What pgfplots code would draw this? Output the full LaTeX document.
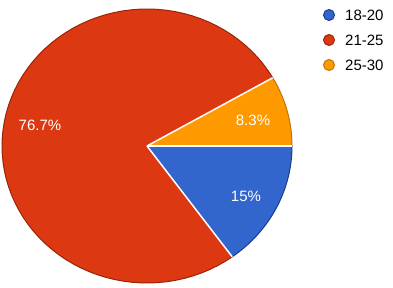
\documentclass[border=0pt]{standalone}
\usepackage{fontspec}
\setmainfont{Liberation Sans}
\usepackage{pgfplots}
\pgfplotsset{compat=1.18}
\definecolor{cblue}{HTML}{3366CC}
\definecolor{cbluedk}{HTML}{1A3C8C}
\definecolor{cred}{HTML}{DC3912}
\definecolor{creddk}{HTML}{9A2409}
\definecolor{corange}{HTML}{FF9900}
\definecolor{corangedk}{HTML}{C27400}
% pie geometry in pixel units (y measured upward)
\def\cx{147}\def\cy{142}\def\rx{145}\def\ry{137}
% slice: start percent, end percent, fill, border
\newcommand{\slice}[4]{%
  \addplot[fill=#3, draw=none, domain=#1:#2, samples=80, variable=\p]
    ({\cx+\rx*cos(-3.6*\p)},{\cy+\ry*sin(-3.6*\p)}) -- (\cx,\cy) -- cycle;
  \addplot[draw=#4, line width=1pt, domain=#1:#2, samples=80, variable=\p]
    ({\cx+\rx*cos(-3.6*\p)},{\cy+\ry*sin(-3.6*\p)});
}
\newcommand{\sep}[1]{%
  \addplot[draw=white, line width=1.5pt, domain=0:1, samples=2, variable=\r]
    ({\cx+\r*\rx*cos(-3.6*#1)},{\cy+\r*\ry*sin(-3.6*#1)});
}
\begin{document}
\begin{tikzpicture}
\begin{axis}[
  scale only axis, width=393pt, height=288pt,
  xmin=0, xmax=393, ymin=0, ymax=288,
  hide axis, clip=false,
]
\path (rel axis cs:0,0) rectangle (rel axis cs:1,1);
% percentages: 18-20 = 15, 21-25 = 76.7, 25-30 = 8.3
\slice{0}{15}{cblue}{cbluedk}
\slice{15}{91.7}{cred}{creddk}
\slice{91.7}{100}{corange}{corangedk}
\sep{0}\sep{15}\sep{91.7}
\node[white, font=\fontsize{15}{17}\selectfont] at (axis cs:40,163) {76.7\%};
\node[white, font=\fontsize{15}{17}\selectfont] at (axis cs:253,168) {8.3\%};
\node[white, font=\fontsize{15}{17}\selectfont] at (axis cs:246,92) {15\%};
% legend
\addplot[only marks, mark=*, mark size=5.5pt, mark options={fill=cblue, draw=cbluedk, line width=1pt}] coordinates {(329,273)};
\addplot[only marks, mark=*, mark size=5.5pt, mark options={fill=cred, draw=creddk, line width=1pt}] coordinates {(329,248)};
\addplot[only marks, mark=*, mark size=5.5pt, mark options={fill=corange, draw=corangedk, line width=1pt}] coordinates {(329,223)};
\node[anchor=west, inner sep=0pt, font=\fontsize{15}{17}\selectfont] at (axis cs:345,273) {18-20};
\node[anchor=west, inner sep=0pt, font=\fontsize{15}{17}\selectfont] at (axis cs:345,248) {21-25};
\node[anchor=west, inner sep=0pt, font=\fontsize{15}{17}\selectfont] at (axis cs:345,223) {25-30};
\end{axis}
\end{tikzpicture}
\end{document}
